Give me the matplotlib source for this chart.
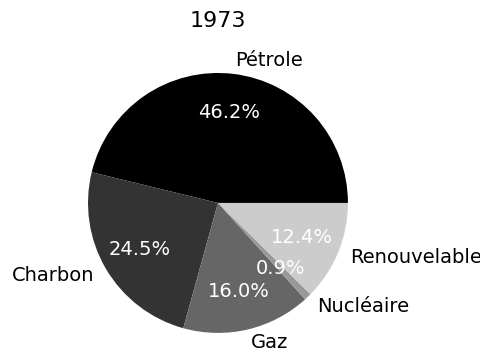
import matplotlib
matplotlib.use("Agg")
import matplotlib.pyplot as plt

labels = ["Pétrole", "Charbon", "Gaz", "Nucléaire", "Renouvelable"]
shares = [46.2, 24.5, 16.0, 0.9, 12.4]
colors = ["#000000", "#333333", "#666666", "#999999", "#cccccc"]

fig = plt.figure(figsize=(4.8, 3.49), dpi=100)
ax = fig.add_axes([0.1156, -0.047, 0.677, 0.931])
wedges, texts, autotexts = ax.pie(
    shares, labels=labels, colors=colors, autopct="%1.1f%%",
    startangle=0, pctdistance=0.7, textprops={"fontsize": 14},
)
for t in autotexts:
    t.set_color("white")
ax.set_xlim(-1.25, 1.25)
ax.set_ylim(-1.25, 1.25)
ax.set_aspect("equal")
fig.text(218 / 480, 1 - 21 / 349, "1973", fontsize=16, ha="center", va="center")
fig.savefig("out.png", dpi=100)
